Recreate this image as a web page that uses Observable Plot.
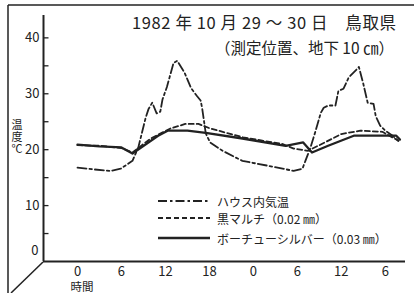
<!DOCTYPE html>
<html>
<head>
<meta charset="utf-8">
<script src="https://cdn.jsdelivr.net/npm/d3@7"></script>
<script src="https://cdn.jsdelivr.net/npm/@observablehq/plot@0.6"></script>
<style>
  html, body { margin: 0; padding: 0; background: #fff; }
  svg { display: block; }
</style>
</head>
<body>
<script>
// ---- data (hours from 0:00 on Oct 29; °C) ----
const houseHours = [0, 2, 4.5, 5.9, 7.5, 8.3, 9.3, 9.7, 10.2, 10.8, 11.3, 11.6, 12.2, 13.1, 13.6, 14.6, 15.5, 16.3, 16.8, 17.0, 17.2, 17.5, 18.1, 19.8, 22.5, 27.3, 29.5, 30.7, 31.1, 31.8, 32.5, 33.2, 33.6, 34.2, 35.2, 35.6, 36.3, 37.0, 38.2, 38.4, 39.0, 39.6, 40.4, 40.7, 41.3, 42.0, 43.0, 44.0];
const houseTemps = [16.8, 16.5, 16.2, 16.6, 18.0, 20.4, 25.7, 27.3, 28.4, 26.5, 26.8, 29.0, 31.2, 35.5, 35.9, 33.8, 31.0, 29.6, 28.8, 27.5, 25.7, 22.9, 21.3, 19.8, 18.0, 16.8, 16.2, 16.6, 18.0, 20.4, 23.4, 26.6, 27.5, 27.9, 27.9, 30.5, 30.9, 32.9, 34.5, 34.8, 31.8, 28.4, 28.2, 26.0, 24.3, 23.4, 22.5, 21.3];

const mulchHours = [0, 3, 6, 7.5, 10, 12.7, 14.7, 16.5, 18.1, 22.6, 28, 29.5, 31.4, 33, 36, 38.6, 41.6, 43.8];
const mulchTemps = [20.8, 20.7, 20.3, 19.5, 22.0, 23.8, 24.6, 24.6, 23.8, 22.2, 21.0, 20.2, 19.8, 20.8, 22.8, 23.4, 23.2, 21.6];

const silverHours = [0, 3, 6, 7.5, 11, 12.3, 15, 17.5, 22.5, 28.4, 30.8, 32, 34.2, 37.7, 43.5, 44];
const silverTemps = [20.9, 20.6, 20.4, 19.3, 22.5, 23.4, 23.4, 23.0, 22.0, 20.7, 21.3, 19.5, 20.7, 22.5, 22.5, 21.8];

const xTicks = [0, 6, 12, 18, 24, 30, 36, 42];
const xTickLabels = ["0", "6", "12", "18", "0", "6", "12", "6"];
const yMajor = [10, 20, 30, 40];
const yMinor = [5, 15, 25, 35];

const seriesNames = ["ハウス内気温", "黒マルチ（0.02 ㎜）", "ボーチューシルバー（0.03 ㎜）"];
const titleText = "1982 年 10 月 29 ～ 30 日　鳥取県";
const subtitleText = "（測定位置、地下 10 ㎝）";
const yLabelText = "温度℃";
const xLabelText = "時間";

// ---- layout ----
const W = 414, H = 293;
const xMin = -4.64, xMax = 44.76, yMinV = 0, yMaxV = 44;
const font = "'Noto Sans CJK JP', 'Noto Sans', sans-serif";
const ink = "#222";

const house = houseHours.map((h, i) => ({h, t: houseTemps[i]}));
const mulch = mulchHours.map((h, i) => ({h, t: mulchTemps[i]}));
const silver = silverHours.map((h, i) => ({h, t: silverTemps[i]}));

const styles = [
  {dash: "9,3,2.5,3", width: 1.8},
  {dash: "5,3", width: 1.8},
  {dash: null, width: 2.3}
];

const chart = Plot.plot({
  width: W, height: H,
  marginLeft: 43, marginRight: 9, marginTop: 15, marginBottom: 32,
  x: {domain: [xMin, xMax], axis: null},
  y: {domain: [yMinV, yMaxV], axis: null},
  style: {fontFamily: font, background: "#fff", color: ink},
  marks: [
    // axes
    Plot.ruleX([xMin], {y1: yMinV, y2: yMaxV, stroke: ink, strokeWidth: 2}),
    Plot.ruleY([yMinV], {x1: xMin, x2: xMax, stroke: ink, strokeWidth: 2}),
    Plot.ruleY(yMajor.concat(yMinor), {x1: xMin, x2: xMin + 0.75, stroke: ink, strokeWidth: 1.3}),
    Plot.text(yMajor, {x: xMin, y: d => d, text: d => String(d), dx: -4, textAnchor: "end", fontSize: 13, fill: ink}),
    Plot.text([0], {x: xMin, y: d => d, text: d => String(d), dx: -5, dy: -11, textAnchor: "end", fontSize: 13, fill: ink}),
    Plot.text(xTicks, {x: d => d, y: yMinV, text: (d, i) => xTickLabels[i], dy: 10, fontSize: 13, fill: ink}),
    Plot.text([xLabelText], {x: 0.6, y: yMinV, text: d => d, dy: 26, fontSize: 11.5, fill: ink}),
    // series
    Plot.line(silver, {x: "h", y: "t", stroke: ink, strokeWidth: styles[2].width}),
    Plot.line(mulch, {x: "h", y: "t", stroke: ink, strokeWidth: styles[1].width, strokeDasharray: styles[1].dash}),
    Plot.line(house, {x: "h", y: "t", stroke: ink, strokeWidth: styles[0].width, strokeDasharray: styles[0].dash})
  ]
});

// ---- decorations: frame, titles, legend ----
const svg = d3.select(chart);
svg.append("line").attr("x1", 8).attr("y1", 5).attr("x2", 414).attr("y2", 5).attr("stroke", ink).attr("stroke-width", 1.5);
svg.append("line").attr("x1", 8).attr("y1", 5).attr("x2", 8).attr("y2", 293).attr("stroke", ink).attr("stroke-width", 1.5);
svg.append("line").attr("x1", 43).attr("y1", 262).attr("x2", 11).attr("y2", 293).attr("stroke", ink).attr("stroke-width", 1.5);

svg.append("text").attr("x", 396).attr("y", 22).attr("text-anchor", "end").attr("dominant-baseline", "central")
  .attr("font-size", 16.5).attr("font-family", font).attr("fill", ink)
  .attr("textLength", 264).attr("lengthAdjust", "spacing").text(titleText);
svg.append("text").attr("x", 394).attr("y", 47).attr("text-anchor", "end").attr("dominant-baseline", "central")
  .attr("font-size", 15.5).attr("font-family", font).attr("fill", ink)
  .attr("textLength", 179).attr("lengthAdjust", "spacing").text(subtitleText);

svg.append("text").attr("x", 17).attr("y", 119).attr("text-anchor", "start")
  .style("writing-mode", "vertical-rl").style("text-orientation", "upright").style("letter-spacing", "1px")
  .attr("font-size", 11).attr("font-family", font).attr("fill", ink).text(yLabelText);

const legY = [201, 218, 238];
seriesNames.forEach((name, i) => {
  const ln = svg.append("line").attr("x1", 158).attr("x2", 210).attr("y1", legY[i]).attr("y2", legY[i])
    .attr("stroke", ink).attr("stroke-width", styles[i].width);
  if (styles[i].dash) ln.attr("stroke-dasharray", styles[i].dash);
  svg.append("text").attr("x", 217).attr("y", legY[i]).attr("text-anchor", "start").attr("dominant-baseline", "central")
    .attr("font-size", 12).attr("font-family", font).attr("fill", ink).text(name);
});

document.body.appendChild(chart);
</script>
</body>
</html>
